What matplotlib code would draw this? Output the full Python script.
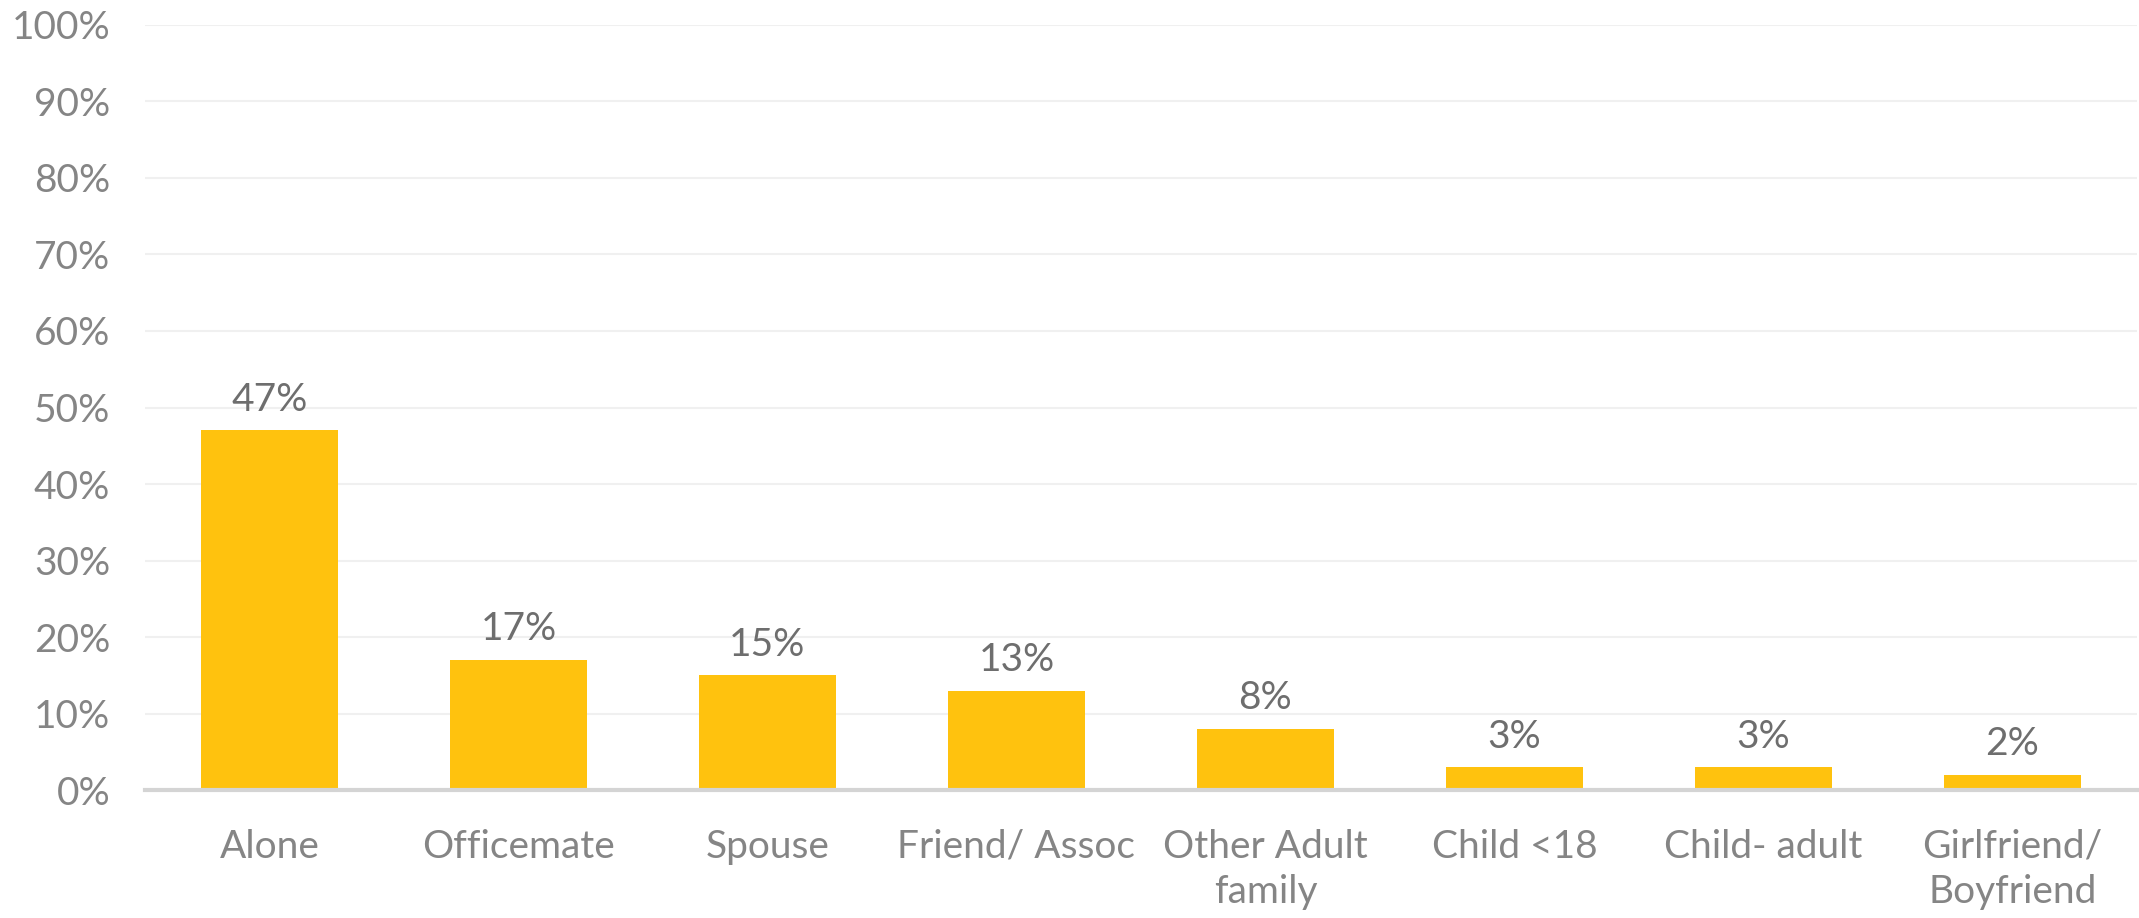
import matplotlib
matplotlib.use("Agg")
import matplotlib.pyplot as plt
from matplotlib.ticker import PercentFormatter

# who people were with
categories = ["Alone", "Officemate", "Spouse", "Friend/ Assoc", "Other Adult\nfamily",
              "Child <18", "Child- adult", "Girlfriend/\nBoyfriend"]
shares = [47, 17, 15, 13, 8, 3, 3, 2]

plt.rcParams['font.family'] = ['Lato', 'DejaVu Sans']

fig = plt.figure(figsize=(21.39, 9.18), dpi=100)
ax = fig.add_axes([0.0678, 0.1394, 0.9312, 0.8334])

x = range(len(categories))
bars = ax.bar(x, shares, width=0.55, color="#FFC20E", zorder=2)

for rect, v in zip(bars, shares):
    ax.annotate(f"{v}%", (rect.get_x() + rect.get_width() / 2, v),
                xytext=(0, 9), textcoords="offset points",
                ha="center", va="bottom", fontsize=28, color="#6e6e6e")

ax.set_xlim(-0.5, len(categories) - 0.5)
ax.set_ylim(0, 100)
ax.set_yticks(range(0, 101, 10))
ax.yaxis.set_major_formatter(PercentFormatter(decimals=0))
ax.set_xticks(list(x))
ax.set_xticklabels(categories, linespacing=1.3)

ax.grid(axis="y", color="#f0f0f0", linewidth=1.5, zorder=0)
for s in ["top", "right", "left"]:
    ax.spines[s].set_visible(False)
ax.spines["bottom"].set_color("#d4d4d4")
ax.spines["bottom"].set_linewidth(3)
ax.spines["bottom"].set_zorder(3)

ax.tick_params(axis="both", length=0, labelsize=28, colors="#858585")
ax.tick_params(axis="x", pad=28)
ax.tick_params(axis="y", pad=25)

fig.savefig("out.png", dpi=100, facecolor="white")
